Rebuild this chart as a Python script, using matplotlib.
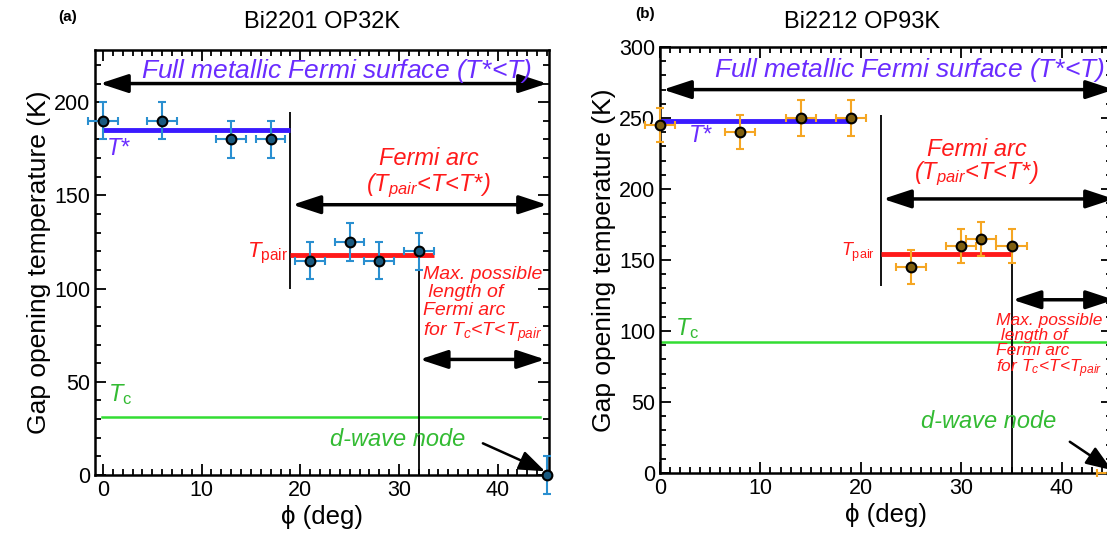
import matplotlib
matplotlib.use("Agg")
import matplotlib.pyplot as plt
from matplotlib.ticker import MultipleLocator

plt.rcParams['font.family'] = ['Liberation Sans', 'DejaVu Sans']
plt.rcParams['mathtext.fontset'] = 'custom'
plt.rcParams['mathtext.rm'] = 'Liberation Sans'
plt.rcParams['mathtext.it'] = 'Liberation Sans:italic'

# ---- data: panel (a) Bi2201 OP32K ----
a_phi = [0, 6, 13, 17, 21, 25, 28, 32, 45]
a_T = [190, 190, 180, 180, 115, 125, 115, 120, 0]
a_yerr = [10, 10, 10, 10, 10, 10, 10, 10, 10]
a_xerr = [1.5, 1.5, 1.5, 1.5, 1.5, 1.5, 1.5, 1.5, 0]
a_Tstar, a_Tstar_range = 185, (0, 19)
a_Tpair, a_Tpair_range = 118, (19, 33.5)
a_Tc = 31
a_arc_start = 19
a_max_start = 32

# ---- data: panel (b) Bi2212 OP93K ----
b_phi = [0, 8, 14, 19, 25, 30, 32, 35, 45]
b_T = [245, 240, 250, 250, 145, 160, 165, 160, 0]
b_yerr = [12, 12, 13, 13, 12, 12, 12, 12, 10]
b_xerr = [1.5, 1.5, 1.5, 1.5, 1.5, 1.5, 1.5, 1.5, 1.5]
b_Tstar, b_Tstar_range = 248, (0, 19)
b_Tpair, b_Tpair_range = 154, (22, 35)
b_Tc = 92
b_arc_start = 22
b_max_start = 35

W, H = 1107, 533
fig = plt.figure(figsize=(W / 100, H / 100), dpi=100)


def px_axes(l, t, r, b):
    return fig.add_axes([l / W, 1 - b / H, (r - l) / W, (b - t) / H])


def style(ax, xlim, ylim):
    ax.set_xlim(*xlim)
    ax.set_ylim(*ylim)
    ax.xaxis.set_major_locator(MultipleLocator(10))
    ax.xaxis.set_minor_locator(MultipleLocator(1))
    ax.yaxis.set_major_locator(MultipleLocator(50))
    ax.yaxis.set_minor_locator(MultipleLocator(10))
    ax.tick_params(which='both', direction='in', top=True, right=True,
                   width=1.3, labelsize=15.5)
    ax.tick_params(which='major', length=8)
    ax.tick_params(which='minor', length=4)
    for s in ax.spines.values():
        s.set_linewidth(1.8)
    ax.set_xlabel('ϕ (deg)', fontsize=18.5, labelpad=3)
    ax.set_ylabel('Gap opening temperature (K)', fontsize=19, labelpad=2)


ARW = '<|-|>,head_length=0.85,head_width=0.28'


def darrow(ax, x0, x1, y):
    ax.annotate('', xy=(x0, y), xytext=(x1, y),
                arrowprops=dict(arrowstyle=ARW, color='black', lw=2.5,
                                mutation_scale=20, shrinkA=0, shrinkB=0))


def sarrow(ax, x0, y0, x1, y1):
    ax.annotate('', xy=(x1, y1), xytext=(x0, y0),
                arrowprops=dict(arrowstyle='-|>,head_length=0.8,head_width=0.3',
                                color='black', lw=1.8,
                                mutation_scale=20, shrinkA=0, shrinkB=0))


# ---------------- panel (a) ----------------
ax = px_axes(95, 50, 549, 475)
style(ax, (-0.8, 45.2), (0, 228))
ax.errorbar(a_phi, a_T, yerr=a_yerr, xerr=a_xerr, fmt='o', ms=7,
            mfc='#1a5a80', mec='black', mew=1.5, ecolor='#2a8fd0',
            elinewidth=1.5, capsize=3, capthick=1.5, zorder=5, clip_on=False)
ax.hlines(a_Tstar, *a_Tstar_range, color='#3a1aff', lw=3.5, zorder=4)
ax.hlines(a_Tpair, *a_Tpair_range, color='#ff1a1a', lw=3.5, zorder=4)
ax.axhline(a_Tc, xmin=0.015, xmax=0.98, color='#33dd33', lw=1.8)
ax.vlines(a_arc_start, 100, 195, color='black', lw=1.3)
ax.vlines(a_max_start, 0, a_Tpair, color='black', lw=1.3)
darrow(ax, -0.3, 45.0, 210)
darrow(ax, a_arc_start + 0.2, 45.0, 145)
darrow(ax, a_max_start + 0.1, 44.8, 62)
sarrow(ax, 38.5, 17, 44.8, 2)
ax.text(23.7, 217, 'Full metallic Fermi surface ($T$*<$T$)', color='#6a2cff',
        style='italic', fontsize=19, ha='center', va='center')
ax.text(0.3, 175, '$T$*', color='#6a2cff', fontsize=17, ha='left', va='center')
ax.text(33, 170, 'Fermi arc', color='#ff1a1a', style='italic', fontsize=17,
        ha='center', va='center')
ax.text(33, 155, '($T_{pair}$<$T$<$T$*)', color='#ff1a1a', fontsize=17,
        ha='center', va='center', style='italic')
ax.text(18.8, 119, '$T_{\\mathrm{pair}}$', color='#ff1a1a', fontsize=16,
        ha='right', va='center')
ax.text(32.4, 112, 'Max. possible\n length of\nFermi arc\nfor $T_c$<$T$<$T_{pair}$',
        color='#ff1a1a', style='italic', fontsize=14, ha='left', va='top',
        linespacing=1.08)
ax.text(0.5, 43, '$T_{\\mathrm{c}}$', color='#33bb33', fontsize=17,
        ha='left', va='center')
ax.text(23, 19, 'd-wave node', color='#33bb33', style='italic', fontsize=17,
        ha='left', va='center')

fig.text(68 / W, 1 - 17 / H, '(a)', fontsize=11, fontweight='bold',
         ha='center', va='center')
fig.text(322 / W, 1 - 22 / H, 'Bi2201 OP32K', fontsize=17, ha='center',
         va='center')

# ---------------- panel (b) ----------------
bx = px_axes(660, 47, 1112, 473)
style(bx, (0, 45), (0, 300))
bx.errorbar(b_phi, b_T, yerr=b_yerr, xerr=b_xerr, fmt='o', ms=7,
            mfc='#806010', mec='black', mew=1.5, ecolor='#f5a623',
            elinewidth=1.5, capsize=3, capthick=1.5, zorder=5, clip_on=False)
bx.hlines(b_Tstar, *b_Tstar_range, color='#3a1aff', lw=3.5, zorder=4)
bx.hlines(b_Tpair, *b_Tpair_range, color='#ff1a1a', lw=3.5, zorder=4)
bx.axhline(b_Tc, color='#33dd33', lw=1.8)
bx.vlines(b_arc_start, 132, 252, color='black', lw=1.3)
bx.vlines(b_max_start, 0, b_Tpair, color='black', lw=1.3)
darrow(bx, 0.3, 45.2, 270)
darrow(bx, b_arc_start + 0.2, 45.2, 193)
darrow(bx, b_max_start + 0.1, 45.2, 122)
sarrow(bx, 40.8, 22, 45, 2)
bx.text(24.8, 284, 'Full metallic Fermi surface ($T$*<$T$)', color='#6a2cff',
        style='italic', fontsize=19, ha='center', va='center')
bx.text(2.8, 237, '$T$*', color='#6a2cff', fontsize=17, ha='left', va='center')
bx.text(31.5, 228, 'Fermi arc', color='#ff1a1a', style='italic', fontsize=17,
        ha='center', va='center')
bx.text(31.5, 211, '($T_{pair}$<$T$<$T$*)', color='#ff1a1a', fontsize=17,
        ha='center', va='center', style='italic')
bx.text(21.4, 155, '$T_{\\mathrm{pair}}$', color='#ff1a1a', fontsize=13,
        ha='right', va='center')
bx.text(33.5, 113, 'Max. possible\n length of\nFermi arc\nfor $T_c$<$T$<$T_{pair}$',
        color='#ff1a1a', style='italic', fontsize=12.5, ha='left', va='top',
        linespacing=1.0)
bx.text(1.5, 102, '$T_{\\mathrm{c}}$', color='#33bb33', fontsize=17,
        ha='left', va='center')
bx.text(26, 36, 'd-wave node', color='#33bb33', style='italic', fontsize=17,
        ha='left', va='center')

fig.text(645 / W, 1 - 14 / H, '(b)', fontsize=11, fontweight='bold',
         ha='center', va='center')
fig.text(862 / W, 1 - 22 / H, 'Bi2212 OP93K', fontsize=17, ha='center',
         va='center')

fig.savefig('out.png', dpi=100)
